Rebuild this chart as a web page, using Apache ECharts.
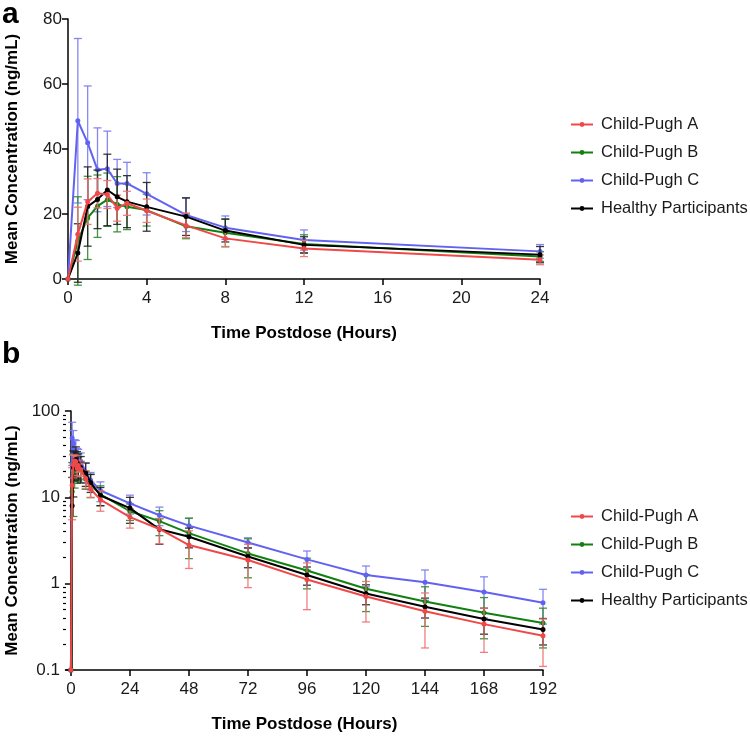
<!DOCTYPE html>
<html>
<head>
<meta charset="utf-8">
<script src="https://cdn.jsdelivr.net/npm/echarts@6/dist/echarts.min.js"></script>
<style>html,body{margin:0;padding:0;background:#fff}#c{width:750px;height:737px}</style>
</head>
<body>
<div id="c"></div>
<script>
// ---- data ----
const times = [0, 0.5, 1, 1.5, 2, 2.5, 3, 4, 6, 8, 12, 24, 36, 48, 72, 96, 120, 144, 168, 192];
const seriesNames = ['Child-Pugh A', 'Child-Pugh B', 'Child-Pugh C', 'Healthy Participants'];
const cpA_mean = [0, 13.8, 23.8, 26.4, 26.0, 21.8, 23.3, 21.0, 16.5, 12.5, 9.4, 5.9, 4.3, 2.8, 1.88, 1.12, 0.71, 0.48, 0.34, 0.25];
const cpA_sd   = [0, 8.3, 7.0, 4.5, 4.3, 4.0, 3.7, 3.6, 3.8, 2.5, 2.5, 1.5, 1.4, 1.3, 0.98, 0.62, 0.35, 0.30, 0.18, 0.14];
const cpB_mean = [0, 11.7, 18.8, 22.4, 24.4, 23.0, 22.2, 21.2, 16.2, 14.2, 10.8, 6.9, 5.3, 3.85, 2.24, 1.42, 0.875, 0.62, 0.46, 0.35];
const cpB_sd   = [0, 13.6, 12.8, 9.6, 8.2, 8.5, 7.0, 4.9, 3.8, 4.3, 2.8, 1.5, 1.7, 1.9, 1.07, 0.55, 0.40, 0.30, 0.23, 0.17];
const cpC_mean = [0, 48.7, 41.9, 33.6, 33.9, 29.4, 29.4, 26.2, 19.7, 15.8, 12.0, 8.5, 6.2, 4.7, 3.0, 1.91, 1.26, 1.04, 0.80, 0.60];
const cpC_sd   = [0, 25.3, 17.5, 12.9, 11.6, 7.4, 6.5, 6.5, 5.1, 3.6, 3.1, 2.1, 1.5, 1.0, 0.4, 0.48, 0.34, 0.40, 0.40, 0.26];
const hp_mean  = [0, 8.0, 22.3, 24.5, 27.4, 25.3, 23.8, 22.2, 19.2, 14.9, 10.5, 7.5, 4.26, 3.5, 2.06, 1.26, 0.77, 0.54, 0.39, 0.295];
const hp_sd    = [0, 9.0, 12.2, 9.0, 11.0, 8.5, 8.0, 7.5, 5.8, 3.5, 2.5, 2.5, 1.4, 0.9, 0.53, 0.30, 0.20, 0.14, 0.13, 0.10];
const xTicksA = [0, 4, 8, 12, 16, 20, 24];
const xTicksB = [0, 24, 48, 72, 96, 120, 144, 168, 192];
const yTicksA = [0, 20, 40, 60, 80];
const yTicksB = [0.1, 1, 10, 100];
const yMinorB = [0.2,0.3,0.4,0.5,0.6,0.7,0.8,0.9,2,3,4,5,6,7,8,9,20,30,40,50,60,70,80,90];

const means = [cpA_mean, cpB_mean, cpC_mean, hp_mean];
const sds = [cpA_sd, cpB_sd, cpC_sd, hp_sd];
const colors = ['#F04848', '#118011', '#6262F2', '#000000'];
const errColors = ['#F07070', '#2E8A2E', '#7A7AF2', '#222222'];
const zOrder = [6, 4, 3, 5];
const LOG_FLOOR = 0.1;
const X_MAX_A = 24;

const font = 'Liberation Sans, Arial, Helvetica, sans-serif';
const txt = '#1a1a1a';

function errRender(params, api) {
  const x = api.value(0), lo = api.value(1), hi = api.value(2);
  const p1 = api.coord([x, lo]);
  const p2 = api.coord([x, hi]);
  const st = api.style({fill: null, stroke: api.visual('color'), lineWidth: 1.3});
  const h = 4;
  return {
    type: 'group',
    children: [
      {type: 'line', shape: {x1: p1[0], y1: p1[1], x2: p2[0], y2: p2[1]}, style: st},
      {type: 'line', shape: {x1: p1[0]-h, y1: p1[1], x2: p1[0]+h, y2: p1[1]}, style: st},
      {type: 'line', shape: {x1: p2[0]-h, y1: p2[1], x2: p2[0]+h, y2: p2[1]}, style: st}
    ]
  };
}

const series = [];
[0, 1].forEach(panel => {
  const isLog = panel === 1;
  means.forEach((m, i) => {
    const lineData = [];
    const errData = [];
    times.forEach((t, k) => {
      if (!isLog && t > X_MAX_A) return;
      const v = m[k];
      lineData.push([t, isLog ? Math.max(v, LOG_FLOOR) : v]);
      const s = sds[i][k];
      if (s > 0) {
        let lo = v - s, hi = v + s;
        if (isLog) lo = Math.max(lo, LOG_FLOOR);
        errData.push([t, lo, hi]);
      }
    });
    series.push({
      type: 'custom', name: seriesNames[i] + ' SD ' + panel,
      xAxisIndex: panel, yAxisIndex: panel,
      renderItem: errRender, data: errData,
      itemStyle: {color: errColors[i], opacity: 0.9},
      z: zOrder[i] - 1, silent: true, clip: false
    });
    series.push({
      type: 'line', name: seriesNames[i],
      xAxisIndex: panel, yAxisIndex: panel,
      data: lineData, symbol: 'circle', symbolSize: 5,
      lineStyle: {color: colors[i], width: 2},
      itemStyle: {color: colors[i]},
      z: zOrder[i], silent: true, animation: false, clip: true
    });
  });
});

const axisLine = {show: true, lineStyle: {color: '#000', width: 1.5}};
const axisLabel = {color: txt, fontSize: 17, fontFamily: font};
const nameStyle = {color: '#000', fontSize: 17, fontWeight: 'bold', fontFamily: font};
const legendText = {fontSize: 16.5, lineHeight: 17, color: txt, fontFamily: font, padding: [0, 0, 0, 3]};

const option = {
  animation: false,
  backgroundColor: '#fff',
  graphic: [
    {type: 'text', left: 2, top: 0, style: {text: 'a', fontSize: 30, fontWeight: 'bold', fontFamily: font, fill: '#000'}},
    {type: 'text', left: 2, top: 340, style: {text: 'b', fontSize: 30, fontWeight: 'bold', fontFamily: font, fill: '#000'}}
  ],
  grid: [
    {left: 68, top: 19, width: 472, height: 260, outerBoundsMode: 'none', containLabel: false},
    {left: 66, top: 411, width: 477, height: 259, outerBoundsMode: 'none', containLabel: false}
  ],
  legend: [
    {data: seriesNames, left: 565, top: 111, orient: 'vertical', itemWidth: 22, itemHeight: 6, itemGap: 11,
     textStyle: legendText, selectedMode: false},
    {data: seriesNames, left: 565, top: 503, orient: 'vertical', itemWidth: 22, itemHeight: 6, itemGap: 11,
     textStyle: legendText, selectedMode: false}
  ],
  xAxis: [
    {type: 'value', gridIndex: 0, min: 0, max: 24, interval: 4,
     axisLine, axisTick: {show: true, length: 6, lineStyle: {color: '#000', width: 1.5}, customValues: xTicksA},
     axisLabel: Object.assign({margin: 11, customValues: xTicksA}, axisLabel), splitLine: {show: false},
     name: 'Time Postdose (Hours)', nameLocation: 'middle', nameGap: 46, nameTextStyle: nameStyle},
    {type: 'value', gridIndex: 1, min: -2, max: 192,
     axisLine, axisTick: {show: true, length: 6, lineStyle: {color: '#000', width: 1.5}, customValues: xTicksB},
     axisLabel: Object.assign({margin: 11, customValues: xTicksB}, axisLabel), splitLine: {show: false},
     name: 'Time Postdose (Hours)', nameLocation: 'middle', nameGap: 46, nameTextStyle: nameStyle}
  ],
  yAxis: [
    {type: 'value', gridIndex: 0, min: 0, max: 80, interval: 20,
     axisLine, axisTick: {show: true, length: 6, lineStyle: {color: '#000', width: 1.5}, customValues: yTicksA},
     axisLabel: Object.assign({margin: 6, customValues: yTicksA}, axisLabel), splitLine: {show: false},
     name: 'Mean Concentration (ng/mL)', nameLocation: 'middle', nameGap: 47, nameTextStyle: nameStyle},
    {type: 'log', gridIndex: 1, min: 0.1, max: 100, logBase: 10,
     axisLine, axisTick: {show: true, length: 6, lineStyle: {color: '#000', width: 1.5}, customValues: yTicksB},
     axisLabel: Object.assign({margin: 6, customValues: yTicksB, formatter: v => String(+v.toPrecision(3))}, axisLabel),
     splitLine: {show: false},
     name: 'Mean Concentration (ng/mL)', nameLocation: 'middle', nameGap: 45, nameTextStyle: nameStyle},
    {type: 'log', gridIndex: 1, min: 0.1, max: 100, logBase: 10, position: 'left', offset: 0,
     axisLine: {show: false}, axisTick: {show: true, length: 3, lineStyle: {color: '#000', width: 1.2}, customValues: yMinorB},
     axisLabel: {show: false}, splitLine: {show: false}}
  ],
  series
};

const chart = echarts.init(document.getElementById('c'), null, {renderer: 'canvas'});
chart.setOption(option);
</script>
</body>
</html>
